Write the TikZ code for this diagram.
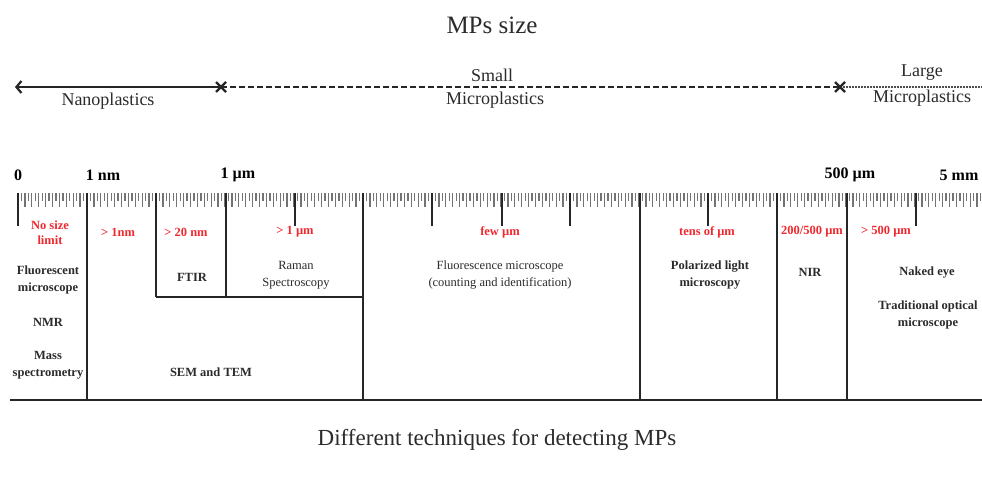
\documentclass[tikz,border=0pt]{standalone}
\usepackage{fontspec}
\setmainfont{Liberation Serif}
\usetikzlibrary{arrows.meta,calc}
\definecolor{ink}{HTML}{2B2B2B}
\definecolor{redlab}{HTML}{F0282D}
\tikzset{
  txt/.style={inner sep=0pt, align=center, text=ink},
  big/.style={txt, font=\fontsize{25}{28}\selectfont},
  cat/.style={txt, font=\fontsize{18}{22}\selectfont},
  rlab/.style={txt, font=\fontsize{16}{18}\selectfont\bfseries, text=black},
  redl/.style={txt, font=\fontsize{12.5}{15}\selectfont\bfseries, text=redlab},
  tech/.style={txt, font=\fontsize{12.5}{17}\selectfont\bfseries},
  techr/.style={txt, font=\fontsize{12.5}{17}\selectfont},
  frame/.style={line width=1.7pt, draw=black!85},
  minor/.style={line width=1.3pt, draw=black!55},
  major/.style={line width=1.7pt, draw=black!85},
  xmark/.style={line width=2.2pt, draw=black!85},
}
\begin{document}
\begin{tikzpicture}[x=1pt,y=-1pt]
\path[use as bounding box, fill=white] (0,0) rectangle (982,482);

% ---------- title ----------
\node[big] (title) at (492,25) {MPs size};

% ---------- size range line ----------
\coordinate (L) at (15,87);
\coordinate (X1) at (221,87);
\coordinate (X2) at (840,87);
\coordinate (R) at (982,87);
\draw[line width=2.2pt, draw=black!85, {Straight Barb[length=5pt,width=12pt,line width=2.2pt]}-] (L) -- (X1);
\draw[line width=2pt, draw=black!85, dash pattern=on 6pt off 3pt] (X1) -- (X2);
\draw[line width=1.7pt, draw=black!70, dash pattern=on 1.5pt off 1.5pt] (X2) -- (R);
\draw[xmark] ($(X1)+(-5,-5)$) -- ($(X1)+(5,5)$) ($(X1)+(-5,5)$) -- ($(X1)+(5,-5)$);
\draw[xmark] ($(X2)+(-5,-5)$) -- ($(X2)+(5,5)$) ($(X2)+(-5,5)$) -- ($(X2)+(5,-5)$);

\node[cat] (nano) at (108,101) {Nanoplastics};
\node[cat] (small) at (492,75) {Small};
\node[cat] (smicro) at (495,100) {Microplastics};
\node[cat] (large) at (922,73) {Large};
\node[cat] (lmicro) at (922,98) {Microplastics};

% ---------- ruler labels ----------
\node[rlab] (r0) at (18,175) {0};
\node[rlab] (r1) at (103,175) {1 nm};
\node[rlab] (r2) at (238,175) {1 µm};
\node[rlab] (r3) at (850,175) {500 µm};
\node[rlab] (r4) at (959,175) {5 mm};

% ---------- ruler ticks ----------
\foreach \i in {0,...,279}{
  \pgfmathsetmacro{\xx}{18+3.45*\i}
  \pgfmathparse{mod(\i,2)==0 ? 207 : 201}
  \let\yy\pgfmathresult
  \draw[minor] (\xx,193) -- (\xx,\yy);
}
\foreach \x in {18,295,432,502,570,708,916}{
  \draw[major] (\x,193) -- (\x,226);
}

% ---------- frame lines ----------
\draw[frame] (87,193) -- (87,400);
\draw[frame] (156,193) -- (156,297);
\draw[frame] (226,193) -- (226,297);
\draw[frame] (156,297) -- (363,297);
\draw[frame] (363,193) -- (363,400);
\draw[frame] (640,193) -- (640,400);
\draw[frame] (777,193) -- (777,400);
\draw[frame] (847,193) -- (847,400);
\draw[frame] (10,400) -- (982,400);

% ---------- red size labels ----------
\node[redl] (nolimit) at (50,233) {No size\\limit};
\node[redl] (g1nm) at (118,232) {> 1nm};
\node[redl] (g20nm) at (186,232) {> 20 nm};
\node[redl] (g1um) at (295,232) {> 1 µm};
\node[redl] (few) at (500,232) {few µm};
\node[redl] (tens) at (707,232) {tens of µm};
\node[redl] (t200) at (812,232) {200/500 µm};
\node[redl] (g500) at (886,232) {> 500 µm};

% ---------- techniques ----------
\node[tech] (fluo) at (48,280) {Fluorescent\\microscope};
\node[tech] (nmr) at (48,322) {NMR};
\node[tech] (mass) at (48,365) {Mass\\spectrometry};
\node[tech] (ftir) at (192,277) {FTIR};
\node[techr] (raman) at (296,275) {Raman\\Spectroscopy};
\node[tech] (sem) at (211,372) {SEM and TEM};
\node[techr] (fluom) at (500,275) {Fluorescence microscope\\(counting and identification)};
\node[tech] (pol) at (710,275) {Polarized light\\microscopy};
\node[tech] (nir) at (810,272) {NIR};
\node[tech] (naked) at (927,273) {Naked eye};
\node[tech] (trad) at (928,315) {Traditional optical\\microscope};

% ---------- bottom caption ----------
\node[big, font=\fontsize{23}{27}\selectfont] (caption) at (497,440) {Different techniques for detecting MPs};
\end{tikzpicture}
\end{document}
